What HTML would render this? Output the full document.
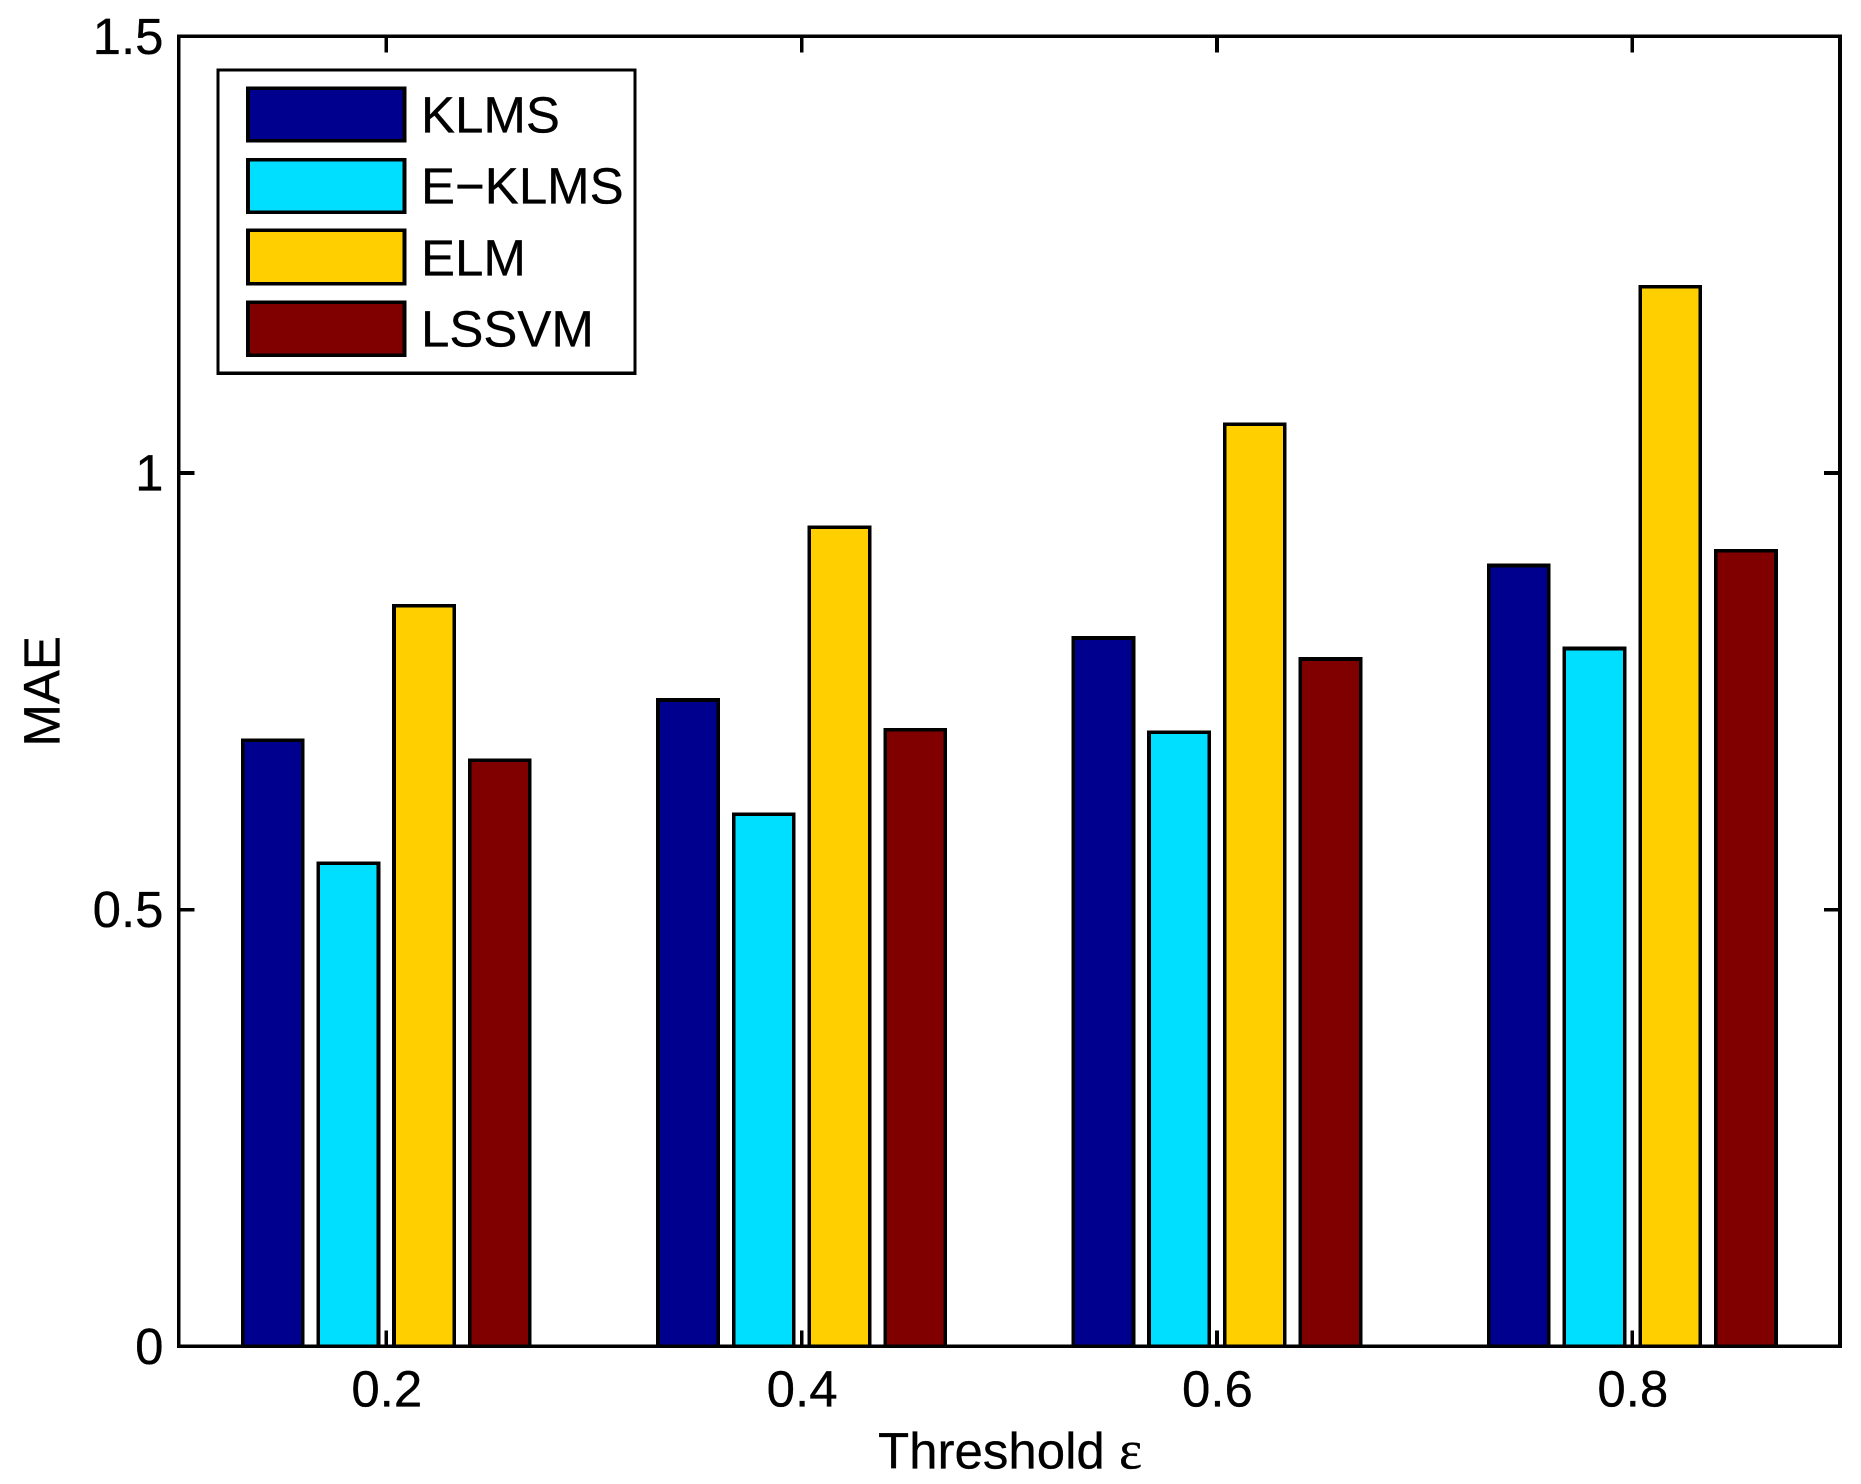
<!DOCTYPE html>
<html lang="en">
<head>
<meta charset="utf-8">
<title>MAE vs Threshold</title>
<style>
html,body{margin:0;padding:0;background:#fff;}
svg{display:block;}
text{font-family:"Liberation Sans",Arial,sans-serif;font-size:51px;fill:#000;stroke:#000;stroke-width:0.3px;}
rect,line{shape-rendering:crispEdges;}
</style>
</head>
<body>
<svg id="chart" xmlns="http://www.w3.org/2000/svg" width="1861" height="1484" viewBox="0 0 1861 1484">
  <rect x="0" y="0" width="1861" height="1484" fill="#fff"/>
  <g id="bars"></g>
  <g id="ticks"></g>
  <rect x="178.6" y="36.3" width="1661.4" height="1310" fill="none" stroke="#000" stroke-width="3.6"/>
  <text x="878" y="1468.7">Threshold <tspan style="font-family:'Liberation Serif',serif;font-size:55px">ε</tspan></text>
  <text transform="translate(59.3 691.3) rotate(-90)" text-anchor="middle">MAE</text>
  <g>
    <rect x="218" y="70" width="417" height="303.3" fill="#fff" stroke="#000" stroke-width="3.2"/>
    <g>
      <rect x="248" y="88.3" width="156.5" height="52.4" fill="#00008f" stroke="#000" stroke-width="3.6"/>
      <text x="421" y="132.7">KLMS</text>
    </g>
    <g>
      <rect x="248" y="159.7" width="156.5" height="52.6" fill="#00dfff" stroke="#000" stroke-width="3.6"/>
      <text x="421" y="203.3">E−KLMS</text>
    </g>
    <g>
      <rect x="248" y="230.3" width="156.5" height="53.4" fill="#ffcf00" stroke="#000" stroke-width="3.6"/>
      <text x="421" y="275.3">ELM</text>
    </g>
    <g>
      <rect x="248" y="302.3" width="156.5" height="53" fill="#800000" stroke="#000" stroke-width="3.6"/>
      <text x="421" y="346.7">LSSVM</text>
    </g>
  </g>
</svg>
<script>
// Chart data
var categories = [0.2, 0.4, 0.6, 0.8];
var klms  = [0.694, 0.740, 0.811, 0.894];
var eklms = [0.553, 0.609, 0.703, 0.799];
var elm   = [0.848, 0.938, 1.056, 1.213];
var lssvm = [0.671, 0.706, 0.787, 0.911];
var xTickLabels = ['0.2', '0.4', '0.6', '0.8'];
var yTicks = [0, 0.5, 1, 1.5];
var yTickLabels = ['0', '0.5', '1', '1.5'];
var seriesKeys = ['klms', 'e-klms', 'elm', 'lssvm'];
var seriesValues = [klms, eklms, elm, lssvm];
var seriesColors = ['#00008f', '#00dfff', '#ffcf00', '#800000'];

// Axis configuration
var NS = 'http://www.w3.org/2000/svg';
var plotLeft = 178.6, plotRight = 1840, plotTop = 36.3, plotBottom = 1346.3;
var xMin = 0.1, xMax = 0.9, yMin = 0, yMax = 1.5;
var barWidthData = 0.029, barStepData = 0.03645, tickLen = 16;

function xScale(v) { return plotLeft + (v - xMin) / (xMax - xMin) * (plotRight - plotLeft); }
function yScale(v) { return plotBottom - (v - yMin) / (yMax - yMin) * (plotBottom - plotTop); }
function make(tag, attrs, parent) {
  var el = document.createElementNS(NS, tag);
  for (var k in attrs) { el.setAttribute(k, attrs[k]); }
  parent.appendChild(el);
  return el;
}

var barsGroup = document.getElementById('bars');
var ticksGroup = document.getElementById('ticks');
var svgRoot = document.getElementById('chart');

seriesValues.forEach(function (values, s) {
  values.forEach(function (value, c) {
    var center = categories[c] + (s - 1.5) * barStepData;
    var x0 = xScale(center - barWidthData / 2);
    var x1 = xScale(center + barWidthData / 2);
    var bar = make('rect', {
      x: x0, y: yScale(value), width: x1 - x0, height: yScale(0) - yScale(value),
      fill: seriesColors[s], stroke: '#000', 'stroke-width': 3.6
    }, barsGroup);
    
    
  });
});

categories.forEach(function (v, i) {
  var x = xScale(v);
  var tickBottom = make('line', { x1: x, x2: x, y1: plotBottom, y2: plotBottom - tickLen, stroke: '#000', 'stroke-width': 3.6 }, ticksGroup);
  
  
  var tickTop = make('line', { x1: x, x2: x, y1: plotTop, y2: plotTop + tickLen, stroke: '#000', 'stroke-width': 3.6 }, ticksGroup);
  
  
  var label = make('text', { x: x + 0.5, y: 1406.5, 'text-anchor': 'middle' }, svgRoot);
  label.textContent = xTickLabels[i];
  
  
});

yTicks.forEach(function (v, i) {
  var y = yScale(v);
  var tickLeft = make('line', { x1: plotLeft, x2: plotLeft + tickLen, y1: y, y2: y, stroke: '#000', 'stroke-width': 3.6 }, ticksGroup);
  
  
  var tickRight = make('line', { x1: plotRight, x2: plotRight - tickLen, y1: y, y2: y, stroke: '#000', 'stroke-width': 3.6 }, ticksGroup);
  
  
  var label = make('text', { x: 163.5, y: y + 17.6, 'text-anchor': 'end' }, svgRoot);
  label.textContent = yTickLabels[i];
  
  
});
</script>
</body>
</html>
